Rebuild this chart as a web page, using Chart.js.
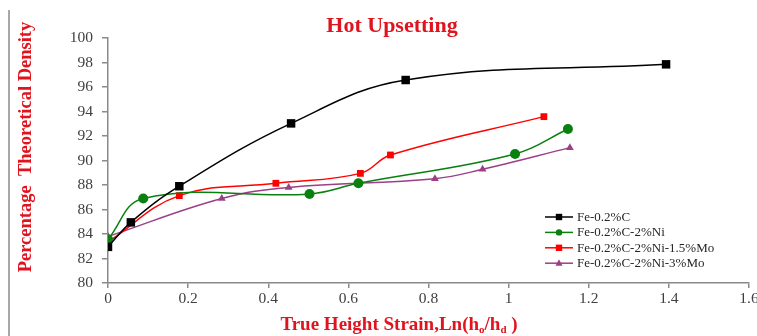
<!DOCTYPE html>
<html>
<head>
<meta charset="utf-8">
<title>Hot Upsetting</title>
<script src="https://cdn.jsdelivr.net/npm/chart.js@4.4.1/dist/chart.umd.min.js"></script>
<style>
  html, body { margin: 0; padding: 0; background: #fff; overflow: hidden; }
  #wrap { position: relative; width: 757px; height: 336px; }
</style>
</head>
<body>
<div id="wrap"><canvas id="chart"></canvas></div>
<script>
// axis ticks
var xTicks = [0, 0.2, 0.4, 0.6, 0.8, 1, 1.2, 1.4, 1.6];
var yTicks = [80, 82, 84, 86, 88, 90, 92, 94, 96, 98, 100];

var seriesNames = ['Fe-0.2%C', 'Fe-0.2%C-2%Ni', 'Fe-0.2%C-2%Ni-1.5%Mo', 'Fe-0.2%C-2%Ni-3%Mo'];

// values: true height strain vs % theoretical density
var strainC = [0, 0.057, 0.178, 0.457, 0.743, 1.393];
var densityC = [82.95, 84.95, 87.9, 93.03, 96.57, 97.85];

var strainNi = [0, 0.088, 0.503, 0.625, 1.016, 1.148];
var densityNi = [83.57, 86.9, 87.27, 88.14, 90.53, 92.57];

var strainMo15 = [0, 0.178, 0.419, 0.63, 0.705, 1.088];
var densityMo15 = [83.35, 87.13, 88.14, 88.95, 90.45, 93.58];

var strainMo3 = [0, 0.284, 0.451, 0.816, 0.935, 1.153];
var densityMo3 = [83.8, 86.9, 87.8, 88.52, 89.28, 91.05];

var RED = '#e0141e';
var SERIF = '"Liberation Serif", "Times New Roman", serif';

function toPoints(xs, ys) {
    return xs.map(function(x, i) { return { x: x, y: ys[i] }; });
}

function makeSet(label, xs, ys, color, style, radius) {
    return {
        label: label,
        data: toPoints(xs, ys),
        borderColor: color,
        backgroundColor: color,
        borderWidth: 1.5,
        pointStyle: style,
        pointRadius: radius,
        pointHoverRadius: radius,
        pointBorderWidth: 0,
        tension: 0.4,
        fill: false
    };
}

var datasets = [
    makeSet(seriesNames[0], strainC, densityC, '#000000', 'rect', 6),
    makeSet(seriesNames[1], strainNi, densityNi, '#0a800f', 'circle', 5),
    makeSet(seriesNames[2], strainMo15, densityMo15, '#ff0000', 'rect', 4.8),
    makeSet(seriesNames[3], strainMo3, densityMo3, '#9b3f86', 'triangle', 4.5)
];

// small marker for the legend
function drawMarker(ctx, style, x, y, r) {
    ctx.beginPath();
    if (style === 'rect') {
        ctx.rect(x - r, y - r, 2 * r, 2 * r);
    } else if (style === 'circle') {
        ctx.arc(x, y, r, 0, Math.PI * 2);
    } else {
        ctx.moveTo(x, y - r * 1.1);
        ctx.lineTo(x + r, y + r * 0.7);
        ctx.lineTo(x - r, y + r * 0.7);
        ctx.closePath();
    }
    ctx.fill();
}

var decorPlugin = {
    id: 'decor',
    afterDraw: function(chart) {
        var ctx = chart.ctx;
        ctx.save();

        // left border of the chart frame
        ctx.strokeStyle = '#a8a8a8';
        ctx.lineWidth = 2;
        ctx.beginPath();
        ctx.moveTo(9, 10);
        ctx.lineTo(9, 336);
        ctx.stroke();

        // chart title
        ctx.fillStyle = RED;
        ctx.textAlign = 'center';
        ctx.textBaseline = 'alphabetic';
        ctx.font = 'bold 22px ' + SERIF;
        ctx.fillText('Hot Upsetting', 392, 32);

        // y axis title
        ctx.save();
        ctx.translate(26, 147);
        ctx.rotate(-Math.PI / 2);
        ctx.font = 'bold 18.5px ' + SERIF;
        ctx.textBaseline = 'middle';
        ctx.fillText('Percentage  Theoretical Density', 0, 0);
        ctx.restore();

        // x axis title with subscripts
        var parts = [
            { t: 'True Height Strain,Ln(h', sub: false },
            { t: 'o', sub: true },
            { t: '/h', sub: false },
            { t: 'd', sub: true },
            { t: ' )', sub: false }
        ];
        var bigFont = 'bold 19px ' + SERIF;
        var subFont = 'bold 11px ' + SERIF;
        var total = 0;
        parts.forEach(function(p) {
            ctx.font = p.sub ? subFont : bigFont;
            p.w = ctx.measureText(p.t).width;
            total += p.w;
        });
        var px = 399 - total / 2;
        ctx.textAlign = 'left';
        parts.forEach(function(p) {
            ctx.font = p.sub ? subFont : bigFont;
            ctx.fillText(p.t, px, p.sub ? 333 : 330);
            px += p.w;
        });

        // legend
        var lx = 545, ly = 217, step = 15.4;
        chart.data.datasets.forEach(function(ds, i) {
            var y = ly + i * step;
            ctx.strokeStyle = ds.borderColor;
            ctx.fillStyle = ds.borderColor;
            ctx.lineWidth = 1.5;
            ctx.beginPath();
            ctx.moveTo(lx, y);
            ctx.lineTo(lx + 28, y);
            ctx.stroke();
            drawMarker(ctx, ds.pointStyle, lx + 14, y, ds.pointStyle === 'triangle' ? 3.5 : 3.2);
            ctx.fillStyle = '#262626';
            ctx.font = '13px ' + SERIF;
            ctx.textBaseline = 'middle';
            ctx.fillText(ds.label, lx + 32, y + 0.5);
        });

        ctx.restore();
    }
};

new Chart(document.getElementById('chart'), {
    type: 'line',
    data: { datasets: datasets },
    options: {
        responsive: true,
        maintainAspectRatio: false,
        animation: false,
        layout: { padding: { top: 38, right: 8, bottom: 0, left: 0 } },
        plugins: {
            legend: { display: false },
            title: { display: false },
            tooltip: { enabled: false }
        },
        scales: {
            x: {
                type: 'linear',
                min: 0,
                max: 1.6,
                afterBuildTicks: function(scale) {
                    scale.ticks = xTicks.map(function(v) { return { value: v }; });
                },
                afterFit: function(scale) {
                    scale.height = 53;
                    scale.paddingRight = 0;
                    scale.paddingLeft = 0;
                },
                border: { color: '#8a8a8a', width: 1.5 },
                grid: { drawOnChartArea: false, drawTicks: true, tickLength: 5, color: '#8a8a8a', lineWidth: 1.5 },
                ticks: {
                    color: '#404040',
                    padding: 2,
                    maxRotation: 0,
                    autoSkip: false,
                    font: { family: SERIF, size: 15.5 },
                    callback: function(value) { return String(value); }
                }
            },
            y: {
                min: 80,
                max: 100,
                afterBuildTicks: function(scale) {
                    scale.ticks = yTicks.map(function(v) { return { value: v }; });
                },
                afterFit: function(scale) {
                    scale.width = 108;
                    scale.paddingTop = 0;
                    scale.paddingBottom = 0;
                },
                border: { color: '#8a8a8a', width: 1.5 },
                grid: { drawOnChartArea: false, drawTicks: true, tickLength: 6, color: '#8a8a8a', lineWidth: 1.5 },
                ticks: {
                    color: '#404040',
                    padding: 9,
                    font: { family: SERIF, size: 15.5 },
                    callback: function(value) { return String(value); }
                }
            }
        }
    },
    plugins: [decorPlugin]
});
</script>
</body>
</html>
